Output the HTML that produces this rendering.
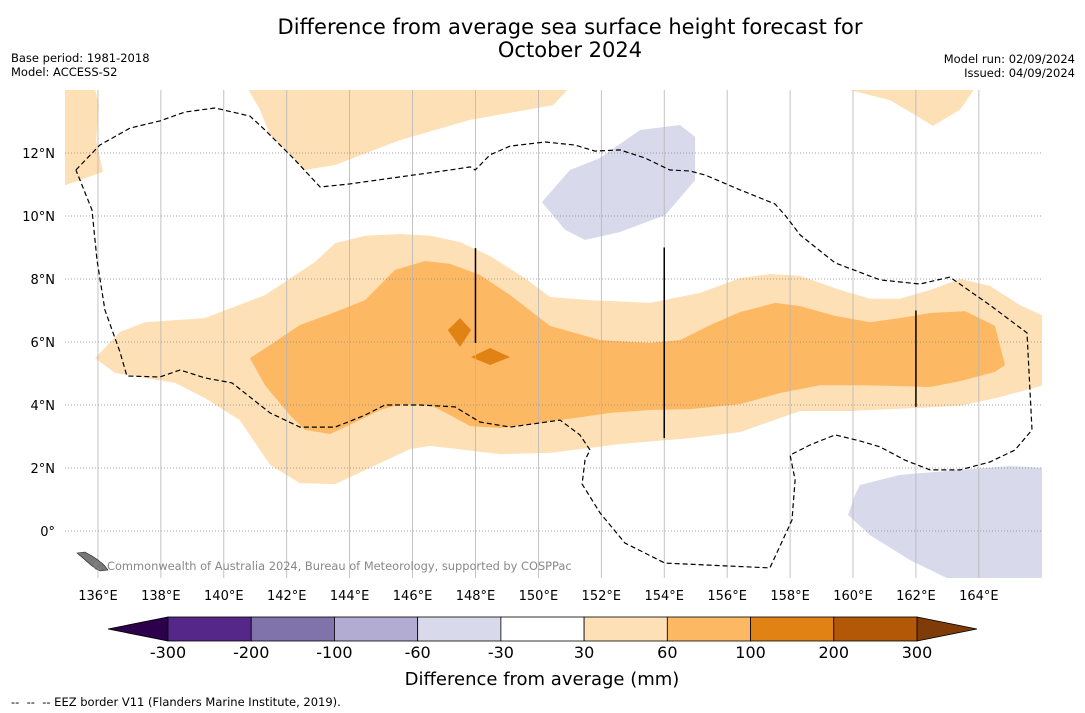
<!DOCTYPE html>
<html><head><meta charset="utf-8"><style>
html,body{margin:0;padding:0;background:#fff;width:1085px;height:713px;overflow:hidden}
svg{display:block;font-family:"DejaVu Sans","Liberation Sans",sans-serif}
</style></head><body>
<svg id="chart" width="1085" height="713" xmlns="http://www.w3.org/2000/svg">
<text x="570" y="34" font-size="21" text-anchor="middle">Difference from average sea surface height forecast for</text>
<text x="570" y="57" font-size="21" text-anchor="middle">October 2024</text>
<text x="11" y="62" font-size="11.5">Base period: 1981-2018</text>
<text x="11" y="76" font-size="11.5">Model: ACCESS-S2</text>
<text x="1075" y="63" font-size="11.5" text-anchor="end">Model run: 02/09/2024</text>
<text x="1075" y="77" font-size="11.5" text-anchor="end">Issued: 04/09/2024</text>
<defs><clipPath id="mc"><rect x="65" y="90" width="977" height="488"/></clipPath></defs>
<g id="map" clip-path="url(#mc)"></g>
<g id="axes"></g>
<g id="cbar"></g>
<text x="542" y="685" font-size="18" text-anchor="middle">Difference from average (mm)</text>
<text x="11" y="706" font-size="11.5" style="white-space:pre" xml:space="preserve">--  --  -- EEZ border V11 (Flanders Marine Institute, 2019).</text>
</svg>
<script>
const lonTicks=[136,138,140,142,144,146,148,150,152,154,156,158,160,162,164];
const latTicks=[0,2,4,6,8,10,12];
const cbarLabels=["-300","-200","-100","-60","-30","30","60","100","200","300"];
const cbarColors=["#542788","#8073ac","#b2abd2","#d8daeb","#ffffff","#fee0b6","#fdb863","#e08214","#b35806"];
const light1=[[135.91,5.49],[136.7,6.32],[137.5,6.63],[139.4,6.76],[141.31,7.49],[142.9,8.54],[143.54,9.14],[144.49,9.37],[145.6,9.43],[146.56,9.37],[147.51,9.17],[148.46,8.73],[149.57,8.03],[150.37,7.43],[151.64,7.33],[153.55,7.24],[155.14,7.56],[156.41,8.03],[157.36,8.16],[158.32,8.1],[159.59,7.65],[160.54,7.37],[161.49,7.37],[162.45,7.65],[163.4,8.0],[164.35,7.78],[165.31,7.17],[166.2,6.76],[166.2,4.67],[164.67,4.25],[163.4,3.97],[159.9,3.81],[158.32,3.81],[156.41,3.14],[154.82,2.95],[152.59,2.76],[150.37,2.48],[148.78,2.44],[146.56,2.7],[145.92,2.6],[144.97,2.16],[143.54,1.49],[142.42,1.52],[141.47,2.1],[140.51,3.52],[139.4,4.22],[138.45,4.7],[136.54,5.02]];
const light2=[[134.8,14.2],[135.87,14.2],[136.03,13.5],[135.94,12.4],[136.16,11.4],[134.8,10.92]];
const light3=[[140.67,14.2],[151.1,14.2],[150.47,13.52],[147.83,13.05],[145.6,12.41],[143.54,11.62],[142.58,11.46],[141.47,12.57],[141.15,13.37]];
const light4=[[159.9,14.0],[163.97,14.2],[163.4,13.37],[162.54,12.86],[161.97,13.21],[161.17,13.68]];
const mid1=[[140.83,5.49],[141.47,5.9],[142.42,6.54],[143.38,6.89],[144.49,7.33],[145.44,8.29],[146.4,8.57],[147.19,8.48],[148.14,8.13],[149.1,7.49],[150.37,6.51],[151.96,6.06],[153.55,5.97],[154.5,6.06],[155.46,6.54],[156.41,6.95],[157.52,7.24],[158.32,7.14],[159.43,6.83],[160.54,6.63],[161.49,6.76],[162.45,6.92],[163.56,6.98],[164.51,6.51],[164.83,5.27],[164.51,5.05],[163.4,4.76],[162.45,4.57],[161.49,4.6],[160.22,4.63],[158.95,4.63],[157.68,4.38],[156.41,4.03],[154.82,3.87],[153.55,3.84],[152.28,3.75],[150.69,3.52],[148.78,3.27],[147.83,3.33],[147.19,3.68],[146.56,4.0],[145.6,4.03],[144.97,3.84],[144.01,3.37],[143.38,3.08],[142.58,3.21],[142.1,3.68],[141.31,4.63]];
const dark1=[[147.12,6.38],[147.51,6.76],[147.86,6.38],[147.51,5.84]];
const dark2=[[147.86,5.52],[148.46,5.81],[149.1,5.52],[148.46,5.27]];
const neg1=[[150.11,10.44],[151.0,11.46],[151.96,11.84],[153.23,12.73],[154.5,12.89],[154.98,12.51],[154.98,11.14],[154.03,10.03],[152.59,9.49],[151.48,9.24],[150.85,9.56]];
const neg2=[[160.22,1.46],[161.49,1.78],[163.4,1.94],[164.99,2.06],[166.2,2.0],[166.2,-1.7],[163.4,-1.7],[161.81,-0.92],[160.54,-0.13],[159.84,0.51],[160.06,1.14]];
const eez=[[135.3,11.46],[136.06,12.25],[137.02,12.79],[137.97,13.02],[138.77,13.3],[139.72,13.43],[140.83,13.17],[141.31,12.73],[142.26,11.78],[143.06,10.92],[144.01,11.02],[145.6,11.24],[147.19,11.46],[147.83,11.56],[147.99,11.46],[148.46,11.94],[149.1,12.22],[150.21,12.35],[151.17,12.25],[151.8,12.06],[152.59,12.1],[153.39,11.84],[154.18,11.46],[154.82,11.43],[155.3,11.3],[156.41,10.83],[157.52,10.38],[157.84,10.03],[158.32,9.4],[159.43,8.51],[160.86,7.97],[162.13,7.84],[163.08,8.06],[164.35,7.17],[165.53,6.29],[165.69,3.21],[165.15,2.57],[164.35,2.19],[163.4,1.94],[162.45,1.94],[161.65,2.25],[160.86,2.67],[160.22,2.86],[159.43,3.05],[158.63,2.73],[158.0,2.41],[158.16,1.62],[158.06,0.35],[157.36,-1.17],[154.02,-1.02],[152.75,-0.38],[151.96,0.57],[151.39,1.49],[151.48,2.25],[151.64,2.57],[151.32,3.05],[150.69,3.52],[149.1,3.3],[148.14,3.46],[147.35,3.94],[146.24,4.0],[145.12,4.0],[144.49,3.68],[143.54,3.3],[142.42,3.3],[141.47,3.75],[140.67,4.38],[140.26,4.7],[139.4,4.86],[138.61,5.11],[137.97,4.89],[136.92,4.92],[136.7,5.68],[136.22,7.02],[135.97,8.6],[135.81,10.19],[135.43,11.14],[135.3,11.46]];
const vlines=[[148,8.98,5.97],[154,9.0,2.95],[162,7.0,3.94]];

const NS='http://www.w3.org/2000/svg';
function xs(lon){return 66.5+(lon-135)*31.46;}
function ys(lat){return 531-lat*31.5;}
function mk(tag,attrs,parent){const e=document.createElementNS(NS,tag);for(const k in attrs)e.setAttribute(k,attrs[k]);parent.appendChild(e);return e;}
const map=document.getElementById('map'),axes=document.getElementById('axes'),cb=document.getElementById('cbar');
function poly(arr,fill,name){
  const p=mk('polygon',{points:arr.map(d=>xs(d[0]).toFixed(1)+','+ys(d[1]).toFixed(1)).join(' '),fill:fill},map);
  
  
}
poly(light1,'#fee0b6','contour-30-60-band');
poly(light2,'#fee0b6','contour-30-60-northwest');
poly(light3,'#fee0b6','contour-30-60-north');
poly(light4,'#fee0b6','contour-30-60-northeast');
poly(mid1,'#fdb863','contour-60-100-band');
poly(dark1,'#e08214','contour-100-200-patch-a');
poly(dark2,'#e08214','contour-100-200-patch-b');
poly(neg1,'#d8daeb','contour-neg-north');
poly(neg2,'#d8daeb','contour-neg-southeast');
lonTicks.forEach(l=>{
  const g=mk('line',{x1:xs(l),x2:xs(l),y1:90,y2:578,stroke:'#b5b5b5','stroke-width':0.8},map);
  
  
  const t=mk('text',{x:xs(l),y:600,'font-size':13,'text-anchor':'middle'},axes);
  t.textContent=l+'°E';
  
  
});
latTicks.forEach(l=>{
  const g=mk('line',{x1:65,x2:1042,y1:ys(l),y2:ys(l),stroke:'#888','stroke-width':0.8,'stroke-dasharray':'1,2'},map);
  
  
  const t=mk('text',{x:55,y:ys(l)+5,'font-size':13,'text-anchor':'end'},axes);
  t.textContent=l===0?'0°':l+'°N';
  
  
});
const ez=mk('polyline',{points:eez.map(d=>xs(d[0]).toFixed(1)+','+ys(d[1]).toFixed(1)).join(' '),fill:'none',stroke:'#000','stroke-width':1.2,'stroke-dasharray':'5,3'},map);


vlines.forEach(v=>{
  const l=mk('line',{x1:xs(v[0]),x2:xs(v[0]),y1:ys(v[1]),y2:ys(v[2]),stroke:'#000','stroke-width':1.5},map);
  
  
});
const isl=mk('polygon',{points:'77,553 85,552 92,556 98,560 104,565 108,570 100,571 92,566 84,559',fill:'#777',stroke:'#222','stroke-width':0.6},map);


const cr=mk('text',{x:92,y:570,'font-size':11.4,fill:'#888'},map);
cr.textContent='© Commonwealth of Australia 2024, Bureau of Meteorology, supported by COSPPac';


const cx0=168,cw=(917-168)/cbarColors.length,cy=617,ch=24;
const lt=mk('polygon',{points:`108,${cy+ch/2} ${cx0},${cy} ${cx0},${cy+ch}`,fill:'#2d004b',stroke:'#000','stroke-width':0.8},cb);


const rt=mk('polygon',{points:`977,${cy+ch/2} 917,${cy} 917,${cy+ch}`,fill:'#7f3b08',stroke:'#000','stroke-width':0.8},cb);


cbarColors.forEach((c,i)=>{
  const r=mk('rect',{x:cx0+i*cw,y:cy,width:cw,height:ch,fill:c,stroke:'#000','stroke-width':0.8},cb);
  
  
});
cbarLabels.forEach((s,i)=>{
  const t=mk('text',{x:cx0+i*cw,y:658,'font-size':16,'text-anchor':'middle'},cb);
  t.textContent=s;
  
  
});
</script>
</body></html>
